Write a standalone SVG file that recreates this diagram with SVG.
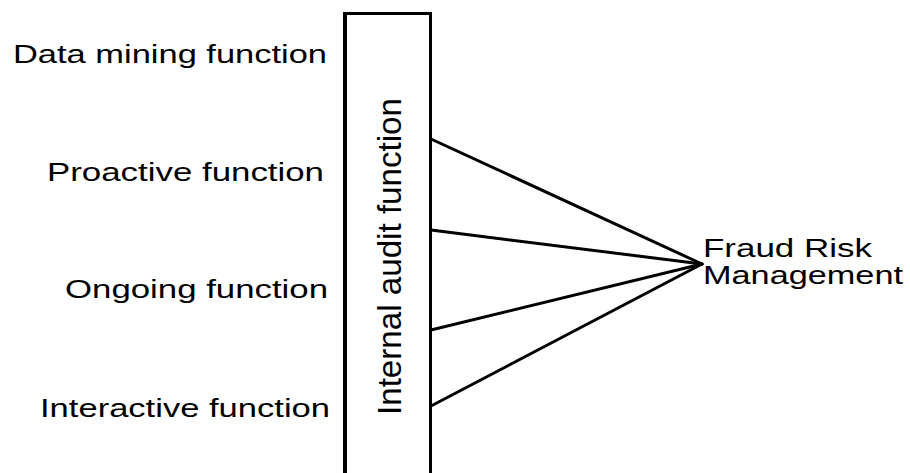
<svg xmlns="http://www.w3.org/2000/svg" width="910" height="473" viewBox="0 0 910 473">
<style>
.lbl{font-family:"Liberation Sans",Arial,sans-serif;font-size:25px;fill:#000}
.vlbl{font-family:"Liberation Sans",Arial,sans-serif;font-size:33px;fill:#000}
.box{fill:#fff;stroke:#000;stroke-width:3}
.conn{stroke:#000;stroke-width:3;fill:none;stroke-linecap:round}
</style>
<rect width="910" height="473" fill="#fff"/>
<g id="functions">
<text class="lbl" x="13" y="63" textLength="314" lengthAdjust="spacingAndGlyphs">Data mining function</text>
<text class="lbl" x="47" y="181" textLength="277" lengthAdjust="spacingAndGlyphs">Proactive function</text>
<text class="lbl" x="65" y="298" textLength="263" lengthAdjust="spacingAndGlyphs">Ongoing function</text>
<text class="lbl" x="40" y="417" textLength="290" lengthAdjust="spacingAndGlyphs">Interactive function</text>
</g>
<g id="internal-audit">
<rect class="box" x="345" y="13.5" width="85.5" height="480"/>
<line x1="345" y1="12" x2="345" y2="473" stroke="#000" stroke-width="4"/>
<text class="vlbl" transform="translate(401,415) rotate(-90)" textLength="317" lengthAdjust="spacingAndGlyphs">Internal audit function</text>
</g>
<g id="fraud-risk">
<text class="lbl" x="703" y="257" textLength="169" lengthAdjust="spacingAndGlyphs">Fraud Risk</text>
<text class="lbl" x="703" y="284" textLength="200" lengthAdjust="spacingAndGlyphs">Management</text>
</g>
<g id="connectors">
<line class="conn" x1="431" y1="139" x2="702" y2="264"/>
<line class="conn" x1="431" y1="230" x2="702" y2="264" stroke-width="2.2"/>
<line class="conn" x1="431" y1="330" x2="702" y2="264"/>
<line class="conn" x1="431" y1="406" x2="702" y2="264"/>
</g>
</svg>
